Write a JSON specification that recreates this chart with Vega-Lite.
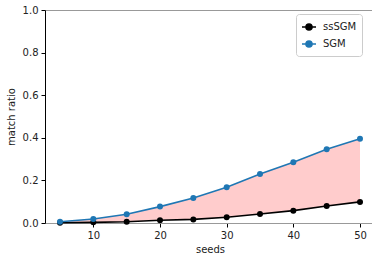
{
  "$schema": "https://vega.github.io/schema/vega-lite/v6.json",
  "autosize": "none",
  "width": 330,
  "height": 213,
  "padding": {"left": 45, "top": 10, "right": 0, "bottom": 35},
  "background": "white",
  "config": {
    "font": "DejaVu Sans",
    "view": {"stroke": null},
    "axis": {
      "labelFont": "DejaVu Sans",
      "titleFont": "DejaVu Sans",
      "labelFontSize": 10,
      "titleFontSize": 10,
      "titleFontWeight": "normal",
      "labelColor": "#222222",
      "titleColor": "#222222",
      "tickColor": "#000000",
      "tickSize": 4,
      "grid": false
    }
  },
  "data": {
    "values": [
      {"seeds": 5, "ssSGM": 0.001, "SGM": 0.006},
      {"seeds": 10, "ssSGM": 0.003, "SGM": 0.019},
      {"seeds": 15, "ssSGM": 0.006, "SGM": 0.041},
      {"seeds": 20, "ssSGM": 0.013, "SGM": 0.077},
      {"seeds": 25, "ssSGM": 0.017, "SGM": 0.117},
      {"seeds": 30, "ssSGM": 0.027, "SGM": 0.168},
      {"seeds": 35, "ssSGM": 0.042, "SGM": 0.230},
      {"seeds": 40, "ssSGM": 0.058, "SGM": 0.285},
      {"seeds": 45, "ssSGM": 0.080, "SGM": 0.346},
      {"seeds": 50, "ssSGM": 0.099, "SGM": 0.396}
    ]
  },
  "resolve": {"axis": {"x": "independent"}},
  "layer": [
    {
      "mark": {"type": "area", "color": "#ffcccc", "opacity": 1},
      "encoding": {
        "x": {"field": "seeds", "type": "quantitative", "scale": {"domain": [2.75, 52.25], "nice": false, "zero": false},
          "axis": {"values": [10, 20, 30, 40, 50], "title": "seeds", "domainColor": "#999999", "labelPadding": 3, "titlePadding": 4}},
        "y": {"field": "SGM", "type": "quantitative", "scale": {"domain": [0, 1], "nice": false},
          "axis": {"values": [0, 0.2, 0.4, 0.6, 0.8, 1.0], "format": ".1f", "title": "match ratio", "domainColor": "#000000", "labelPadding": 3, "titlePadding": 6}},
        "y2": {"field": "ssSGM"}
      }
    },
    {
      "transform": [{"fold": ["ssSGM", "SGM"], "as": ["method", "value"]}],
      "mark": {"type": "line", "strokeWidth": 1.6, "point": {"filled": true, "size": 36, "opacity": 1}},
      "encoding": {
        "x": {"field": "seeds", "type": "quantitative",
          "axis": {"orient": "top", "title": null, "labels": false, "ticks": false, "domainColor": "#999999"}},
        "y": {"field": "value", "type": "quantitative"},
        "color": {"field": "method", "type": "nominal",
          "scale": {"domain": ["ssSGM", "SGM"], "range": ["#000000", "#1f77b4"]},
          "legend": {
            "title": null,
            "orient": "none",
            "legendX": 251,
            "legendY": 4,
            "symbolType": "M-1,0L1,0M-0.43,0a0.43,0.43 0 1,0 0.86,0a0.43,0.43 0 1,0 -0.86,0",
            "symbolSize": 196,
            "symbolStrokeWidth": 1.6,
            "labelFontSize": 10,
            "labelColor": "#222222",
            "labelFont": "DejaVu Sans",
            "rowPadding": 2,
            "padding": 5,
            "strokeColor": "#cccccc",
            "cornerRadius": 3,
            "fillColor": "white",
            "labelOffset": 6
          }
        }
      }
    }
  ]
}
